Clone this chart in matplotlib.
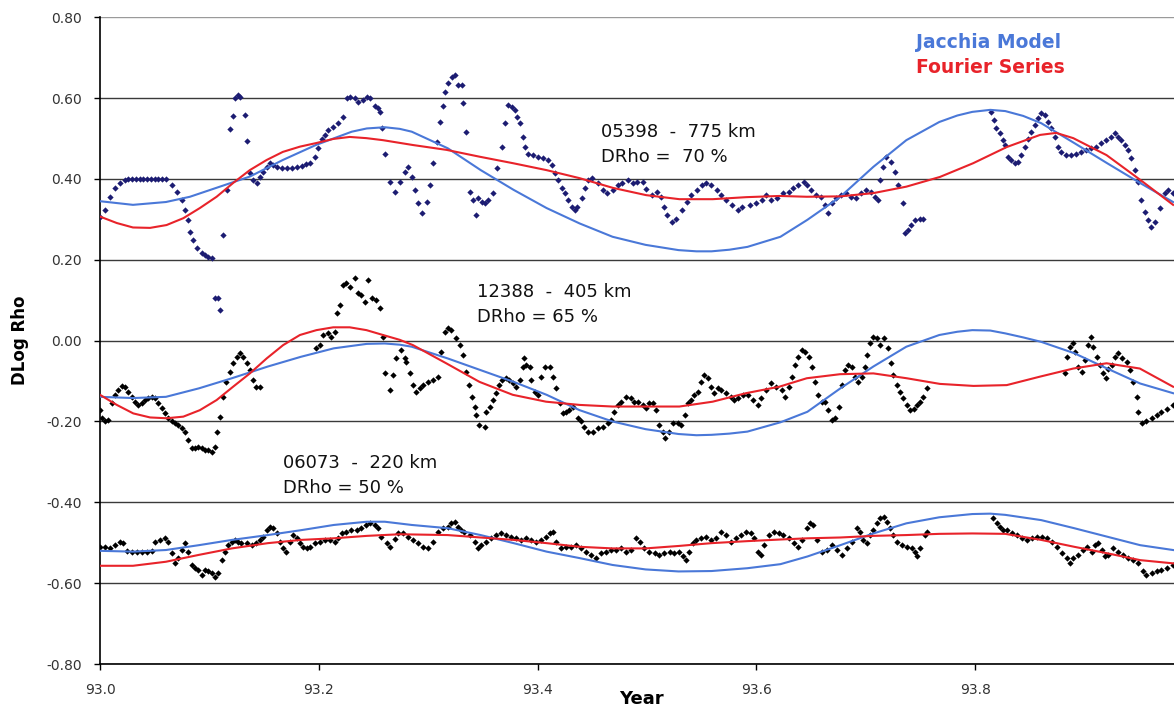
import matplotlib
matplotlib.use("Agg")
import matplotlib.pyplot as plt
import numpy as np
from matplotlib.ticker import FormatStrFormatter, FuncFormatter

plt.rcParams['font.family'] = 'DejaVu Sans'
plt.rcParams['axes.unicode_minus'] = False

# --- 05398 (775 km): day of 1993, DLog Rho ---
day_05398 = [0, 1.7, 3.3, 5, 6.7, 8.3, 9.5, 10.7, 12, 13.3, 14.5, 15.7, 17, 18.3, 19.5, 20.7, 22,
             24, 25.7, 27.3, 28.3, 29.3, 30, 31, 32.3, 34, 35, 36, 37.3, 38.3, 39.3, 40, 41,
             42.3, 43.3, 44.3, 45, 46, 46.7, 48.3, 49, 50, 51, 52.3, 53.3, 54.3, 55.7, 56.7,
             57.7, 59, 60.7, 62.3, 64, 65.7, 67.3, 68.7, 70, 71.7, 72.7, 74, 75, 76, 77.7,
             79.3, 81, 82.3, 83.3, 85, 86, 87.7, 89, 90, 91.7, 92.7, 93.3, 94, 95, 96.7, 98.3,
             100, 101.7, 102.7, 104, 105, 106, 107.3, 109, 110, 111, 112.3, 113.3, 114.3, 115,
             116, 117.3, 118.3, 119.3, 120.7, 121, 122, 123.3, 124.3, 125.3, 126, 127.3, 128.3,
             129.3, 131, 132.3, 134, 135, 136, 137.3, 138.3, 139, 140, 141, 141.7, 142.7, 144.3,
             146, 147.7, 149.3, 150.7, 151.7, 152.7, 154, 155, 156, 157.3, 158.3, 159.3, 160.7,
             161.7, 162.7, 164.3, 166, 167.7, 169.3, 171, 172.7, 174.3, 176, 177.7, 179.3, 181,
             182.3, 184, 185.7, 187.3, 188.3, 189.3, 190.7, 192.3, 194, 195.7, 197.3, 199,
             200.7, 202.3, 204, 205.7, 207.3, 209, 211, 212.7, 214.3, 216.7, 219, 220.7, 222.3,
             224, 225.7, 228, 229.7, 231.3, 233, 234.7, 235.7, 237.3, 239, 240.7, 242, 243,
             244.3, 245.7, 247.3, 249, 250.7, 252.3, 254, 255.7, 257.3, 258.7, 259.7, 260.3,
             261.3, 262.3, 264, 265.3, 266.3, 268, 268.7, 269.7, 270.7, 272, 273.7, 274.7,
             297.3, 298.3, 299, 300.3, 301.3, 302, 303, 304, 305.3, 306.3, 307.3, 308.7, 309.7,
             310.7, 312, 313, 314, 315.3, 316.3, 317.3, 318.7, 319.7, 320.7, 322.3, 324, 325.7,
             327.3, 329, 330.7, 332.3, 334, 335.7, 337.3, 338.7, 339.7, 340.7, 342, 343, 344,
             345.3, 346.3, 347.3, 348.7, 349.7, 350.7, 352, 353.7, 355.3, 356.3, 358]
rho_05398 = [0.307, 0.323, 0.356, 0.378, 0.39, 0.398, 0.40, 0.40, 0.40, 0.40, 0.40, 0.40, 0.40,
             0.40, 0.40, 0.40, 0.40, 0.385, 0.368, 0.348, 0.323, 0.298, 0.27, 0.25, 0.23, 0.217,
             0.212, 0.208, 0.204, 0.105, 0.105, 0.076, 0.262, 0.373, 0.523, 0.556, 0.60, 0.608,
             0.604, 0.558, 0.494, 0.414, 0.398, 0.39, 0.405, 0.418, 0.43, 0.44, 0.435, 0.43,
             0.427, 0.427, 0.428, 0.43, 0.432, 0.436, 0.44, 0.455, 0.476, 0.50, 0.51, 0.52,
             0.528, 0.538, 0.553, 0.60, 0.604, 0.60, 0.59, 0.595, 0.604, 0.60, 0.58, 0.575,
             0.565, 0.525, 0.463, 0.393, 0.368, 0.393, 0.418, 0.43, 0.405, 0.373, 0.34, 0.315,
             0.343, 0.385, 0.44, 0.492, 0.542, 0.58, 0.616, 0.637, 0.653, 0.657, 0.633, 0.633,
             0.588, 0.516, 0.368, 0.348, 0.311, 0.352, 0.343, 0.34, 0.348, 0.365, 0.427, 0.479,
             0.538, 0.583, 0.578, 0.571, 0.553, 0.538, 0.505, 0.479, 0.463, 0.46, 0.455, 0.452,
             0.447, 0.435, 0.414, 0.398, 0.378, 0.365, 0.348, 0.331, 0.323, 0.331, 0.352, 0.378,
             0.398, 0.402, 0.39, 0.373, 0.365, 0.373, 0.385, 0.39, 0.398, 0.39, 0.393, 0.393,
             0.375, 0.36, 0.368, 0.356, 0.331, 0.311, 0.294, 0.302, 0.323, 0.343, 0.36, 0.373,
             0.385, 0.39, 0.385, 0.373, 0.36, 0.348, 0.335, 0.323, 0.331, 0.335, 0.34, 0.348,
             0.36, 0.348, 0.352, 0.365, 0.368, 0.378, 0.385, 0.393, 0.385, 0.373, 0.36, 0.356,
             0.335, 0.315, 0.34, 0.352, 0.36, 0.365, 0.356, 0.352, 0.365, 0.373, 0.368, 0.356,
             0.348, 0.398, 0.43, 0.455, 0.443, 0.418, 0.385, 0.34, 0.266, 0.274, 0.286, 0.298,
             0.302, 0.302, 0.566, 0.546, 0.525, 0.513, 0.496, 0.484, 0.455, 0.447, 0.439,
             0.443, 0.459, 0.479, 0.50, 0.516, 0.533, 0.55, 0.563, 0.558, 0.542, 0.525, 0.505,
             0.479, 0.467, 0.459, 0.459, 0.463, 0.467, 0.471, 0.476, 0.479, 0.488, 0.496, 0.505,
             0.513, 0.505, 0.496, 0.484, 0.471, 0.452, 0.422, 0.393, 0.348, 0.319, 0.298, 0.282,
             0.294, 0.328, 0.365, 0.373, 0.365]

# --- 12388 (405 km) ---
day_12388 = [0, 0.6, 1.7, 2.8, 3.9, 5, 6, 7.2, 8.3, 9.4, 10.6, 11.7, 12.8, 13.9, 15, 16, 17.2,
             18.3, 19.4, 20.6, 21.7, 22.8, 23.9, 25, 26, 27.2, 28.3, 29.4, 30.6, 31.7, 32.8,
             33.9, 35, 36, 37.2, 38.3, 39.1, 40, 41.1, 42.2, 43.3, 44.4, 45.6, 46.7, 47.8, 48.9,
             50, 51.1, 52.2, 53.3,
             72.2, 73.3, 74.4, 76.1, 77.2, 78.3, 78.9, 80, 81.1, 82.2, 83.3, 85, 86.1, 87.2, 88.3,
             89.4, 90.6, 92.2, 93.3, 94.4, 95, 96.7, 97.7, 98.9, 100.5, 101.6, 102.2, 103.3,
             104.4, 105.5, 106.6, 107.7, 109.4, 111.1, 112.7, 113.9, 115, 116.1, 117.2, 118.9,
             120, 121.1, 122, 123.1, 124.2, 125, 125.5, 126.6, 128.3, 128.9, 130, 131.1, 132.2,
             133.1, 134.2, 135.5, 136.6, 137.7, 138.9, 140, 141.1, 141.6, 142.2, 143.3, 143.9,
             145, 146.1, 147.2, 148.3, 150, 151.1, 152.2, 153.3, 154.4, 155.5, 156.6, 157.7,
             159.4, 160.5, 161.6, 162.7, 164.4, 166.1, 167.7, 169.4, 170.5, 171.6, 172.7, 173.9,
             175.5, 177.2, 178.3, 179.4, 181.1, 182.2, 183.3, 184.4, 185.5, 186.6, 187.7, 188.6,
             189.7, 191.1, 192.7, 193.9, 195, 196.1, 197.2, 198.3, 199.4, 200.5, 201.6, 202.7,
             203.9, 205, 206.1, 207.2, 208.9, 210.5, 211.6, 212.7, 214.4, 216.1, 217.7, 219.4,
             220.5, 222.2, 223.9, 225.5, 227.5, 228.6, 229.7, 230.8, 231.9, 233, 234.1, 235.3,
             236.4, 237.5, 238.6, 239.7, 240.8, 241.9, 243, 244.1, 245.3, 246.4, 247.5, 248.6,
             249.7, 250.8, 251.9, 253, 254.1, 255.3, 255.8, 256.9, 258, 259.1, 260.2, 261.4, 263,
             263.8, 264.7, 265.8, 266.9, 268, 269.1, 270.3, 271.4, 272.5, 273.6, 274.7, 275.8,
             321.9, 322.5, 323.6, 324.7, 325.3, 326.4, 327.5, 328.6, 329.7, 330.5, 331.4, 332.5,
             333.6, 334.7, 335.6, 336.4, 337.5, 338.6, 339.7, 340.8, 342.5, 343.6, 344.7, 345.8,
             346.4, 347.5, 349.1, 350.8, 352.5, 354.1, 355.8, 358]
rho_12388 = [-0.172, -0.192, -0.2, -0.196, -0.155, -0.134, -0.122, -0.112, -0.114, -0.126,
             -0.139, -0.151, -0.159, -0.155, -0.147, -0.143, -0.139, -0.143, -0.155, -0.167,
             -0.18, -0.192, -0.2, -0.204, -0.209, -0.217, -0.225, -0.246, -0.266, -0.266,
             -0.262, -0.266, -0.271, -0.271, -0.275, -0.262, -0.225, -0.188, -0.139, -0.102,
             -0.077, -0.056, -0.04, -0.031, -0.04, -0.056, -0.073, -0.097, -0.114, -0.114,
             -0.019, -0.011, 0.014, 0.018, 0.01, 0.022, 0.068, 0.088, 0.138, 0.142, 0.133, 0.154,
             0.117, 0.113, 0.096, 0.15, 0.105, 0.10, 0.08, 0.01, -0.081, -0.122, -0.085, -0.044,
             -0.023, -0.044, -0.052, -0.081, -0.11, -0.126, -0.118, -0.11, -0.102, -0.097,
             -0.089, -0.027, 0.022, 0.031, 0.026, 0.006, -0.011, -0.035, -0.077, -0.11, -0.139,
             -0.163, -0.184, -0.209, -0.213, -0.176, -0.163, -0.147, -0.13, -0.11, -0.097,
             -0.093, -0.097, -0.106, -0.114, -0.097, -0.064, -0.044, -0.06, -0.064, -0.097,
             -0.126, -0.134, -0.089, -0.064, -0.064, -0.089, -0.118, -0.155, -0.18, -0.176,
             -0.172, -0.163, -0.192, -0.2, -0.213, -0.225, -0.225, -0.217, -0.213, -0.204,
             -0.196, -0.176, -0.159, -0.151, -0.139, -0.143, -0.151, -0.151, -0.159, -0.167,
             -0.155, -0.155, -0.172, -0.209, -0.225, -0.242, -0.225, -0.204, -0.204, -0.209,
             -0.184, -0.155, -0.147, -0.134, -0.126, -0.102, -0.085, -0.093, -0.114, -0.13,
             -0.118, -0.122, -0.13, -0.139, -0.147, -0.143, -0.134, -0.134, -0.147, -0.159,
             -0.143, -0.122, -0.106, -0.114, -0.122, -0.139, -0.114, -0.089, -0.06, -0.04,
             -0.023, -0.027, -0.04, -0.064, -0.102, -0.134, -0.151, -0.151, -0.172, -0.196,
             -0.192, -0.163, -0.11, -0.073, -0.06, -0.064, -0.089, -0.102, -0.089, -0.064,
             -0.035, -0.006, 0.01, 0.006, -0.011, 0.006, -0.019, -0.056, -0.085, -0.11, -0.126,
             -0.143, -0.159, -0.172, -0.168, -0.159, -0.151, -0.139, -0.118,
             -0.081, -0.04, -0.015, -0.006, -0.027, -0.064, -0.077, -0.048, -0.011, 0.01, -0.015,
             -0.04, -0.06, -0.081, -0.093, -0.069, -0.06, -0.04, -0.031, -0.044, -0.052, -0.073,
             -0.102, -0.139, -0.176, -0.204, -0.2, -0.192, -0.184, -0.176, -0.168, -0.159]

# --- 06073 (220 km) ---
day_06073 = [0, 1.7, 3.3, 5, 6.7, 7.8, 8.9, 10.6, 12.2, 13.9, 15.6, 17.2, 18.3, 20, 21.7, 22.8,
             23.9, 25, 26.1, 27.2, 28.3, 29.4, 30.6, 31.7, 32.8, 33.9, 35, 36.1, 37.2, 38.3,
             39.4, 40.6, 41.7, 42.8, 43.9, 45, 46.1, 47.2, 48.9, 50.6, 52.2, 53.3, 54.5, 55.6,
             56.7, 57.8, 58.9, 60, 61.1, 62.2, 63.3, 64.4, 65.6, 66.7, 67.8, 68.9, 70, 71.7,
             73.3, 75, 76.7, 78.3, 79.5, 80.6, 82.2, 83.9, 85.6, 87.2, 88.9, 90, 91.7, 92.8,
             93.9, 95.6, 96.7, 98.3, 99.4, 101.1, 102.7, 104.4, 106.1, 107.7, 109.4, 111.1,
             112.7, 114.4, 116.1, 117.2, 118.3, 119.4, 120.5, 121.6, 123.3, 125, 126.1, 127.2,
             128.9, 130.5, 132.2, 133.9, 135.5, 137.2, 138.9, 140.5, 142.2, 143.9, 145.5, 147.2,
             148.9, 150, 151.1, 152.2, 153.9, 155.5, 157.2, 158.9, 160.5, 162.2, 163.9, 165.5,
             167.2, 168.9, 170.5, 172.2, 173.9, 175.5, 177.2, 178.9, 180, 181.6, 183.3, 185,
             186.6, 188.3, 190, 191.6, 193.3, 194.4, 195.5, 196.6, 197.7, 198.9, 200.5, 202.2,
             203.9, 205.5, 207.2, 208.9, 210.5, 212.2, 213.9, 215.5, 217.2, 218.3, 219.4, 220.5,
             221.6, 223.3, 225, 226.4, 228, 229.7, 231.4, 233, 234.1, 235.8, 236.9, 238, 239.1,
             240.8, 242.5, 244.1, 245.8, 247.5, 249.1, 250.8, 252.5, 253.6, 254.7, 255.8, 256.9,
             258, 259.1, 260.2, 261.4, 262.5, 263.6, 264.7, 265.8, 267.5, 269.1, 270.8, 271.9,
             272.7, 273.6, 275.3, 275.8,
             298, 299.2, 300.3, 301.4, 302.5, 304.2, 305.8, 307.5, 309.2, 310.8, 312.5, 314.2,
             315.8, 317.5, 319.2, 320.8, 322.5, 323.6, 324.7, 326.4, 328, 329.2, 330.8, 331.9,
             333, 334.2, 335.3, 336.4, 338, 339.7, 341.4, 343, 344.7, 346.4, 348, 349.1, 350.8,
             352.5, 354.1, 355.8, 358]
rho_06073 = [-0.511, -0.511, -0.514, -0.506, -0.497, -0.5, -0.52, -0.522, -0.522, -0.522,
             -0.522, -0.52, -0.497, -0.493, -0.489, -0.497, -0.526, -0.551, -0.538, -0.518,
             -0.501, -0.522, -0.555, -0.563, -0.567, -0.58, -0.567, -0.571, -0.576, -0.584,
             -0.576, -0.543, -0.522, -0.506, -0.497, -0.493, -0.497, -0.501, -0.501, -0.506,
             -0.501, -0.493, -0.485, -0.469, -0.46, -0.464, -0.477, -0.497, -0.514, -0.522,
             -0.497, -0.481, -0.489, -0.501, -0.51, -0.514, -0.51, -0.501, -0.497, -0.493,
             -0.493, -0.497, -0.489, -0.477, -0.473, -0.469, -0.469, -0.464, -0.456, -0.452,
             -0.456, -0.464, -0.485, -0.501, -0.51, -0.49, -0.477, -0.477, -0.485, -0.493,
             -0.501, -0.51, -0.514, -0.497, -0.473, -0.464, -0.46, -0.452, -0.448, -0.46, -0.469,
             -0.473, -0.481, -0.497, -0.514, -0.506, -0.497, -0.489, -0.481, -0.477, -0.481,
             -0.485, -0.489, -0.493, -0.489, -0.493, -0.497, -0.493, -0.485, -0.477, -0.473,
             -0.497, -0.514, -0.51, -0.51, -0.506, -0.514, -0.522, -0.53, -0.538, -0.526,
             -0.522, -0.518, -0.518, -0.514, -0.522, -0.518, -0.489, -0.497, -0.514, -0.522,
             -0.526, -0.53, -0.526, -0.522, -0.526, -0.522, -0.534, -0.543, -0.522, -0.501,
             -0.493, -0.489, -0.485, -0.493, -0.489, -0.473, -0.481, -0.497, -0.489, -0.481,
             -0.473, -0.477, -0.489, -0.522, -0.53, -0.506, -0.481, -0.473, -0.477, -0.481,
             -0.489, -0.501, -0.51, -0.493, -0.464, -0.452, -0.456, -0.493, -0.522, -0.518,
             -0.506, -0.518, -0.53, -0.514, -0.497, -0.464, -0.473, -0.493, -0.501, -0.481,
             -0.469, -0.452, -0.44, -0.436, -0.448, -0.464, -0.481, -0.497, -0.506, -0.51,
             -0.514, -0.522, -0.534, -0.514, -0.481, -0.473,
             -0.44, -0.452, -0.46, -0.469, -0.469, -0.477, -0.481, -0.489, -0.493, -0.489,
             -0.485, -0.485, -0.489, -0.497, -0.51, -0.526, -0.538, -0.551, -0.538, -0.53,
             -0.518, -0.51, -0.522, -0.506, -0.501, -0.518, -0.534, -0.53, -0.514, -0.522,
             -0.53, -0.538, -0.543, -0.551, -0.571, -0.58, -0.576, -0.571, -0.567, -0.563,
             -0.555]

# --- model curves ---
jac_day_05398 = [0, 11, 22, 30, 40, 50, 61, 72, 84, 89, 95, 100, 104, 116, 127, 138, 149, 160,
                 171, 182, 193, 199, 204, 210, 216, 227, 236, 247, 258, 269, 280, 286, 291, 297,
                 302, 308, 314, 325, 336, 347, 358]
jac_05398 = [0.345, 0.336, 0.343, 0.356, 0.381, 0.406, 0.447, 0.484, 0.517, 0.525, 0.528,
             0.524, 0.517, 0.476, 0.422, 0.373, 0.328, 0.29, 0.257, 0.237, 0.224, 0.221, 0.221,
             0.225, 0.232, 0.257, 0.299, 0.356, 0.43, 0.496, 0.541, 0.557, 0.566, 0.571, 0.568,
             0.556, 0.538, 0.489, 0.439, 0.39, 0.343]
four_day_05398 = [0, 5.6, 11, 16.7, 22.2, 27.8, 33.3, 38.9, 44.4, 50, 55.6, 61, 66.7, 72.2,
                  77.8, 83.3, 88.9, 94.4, 104.4, 115.6, 126.7, 137.8, 148.9, 160, 171.1, 182.2,
                  193.3, 204.4, 215.6, 226.7, 235.8, 247, 258, 269, 280.2, 291.3, 302.5,
                  313.6, 319, 324.7, 335.8, 347, 358]
four_05398 = [0.307, 0.291, 0.28, 0.279, 0.286, 0.303, 0.328, 0.356, 0.39, 0.422, 0.447, 0.467,
              0.48, 0.489, 0.499, 0.504, 0.501, 0.496, 0.484, 0.472, 0.455, 0.439, 0.422, 0.402,
              0.378, 0.36, 0.35, 0.35, 0.355, 0.358, 0.356, 0.357, 0.365, 0.381, 0.405, 0.439,
              0.479, 0.509, 0.514, 0.501, 0.459, 0.398, 0.336]

jac_day_12388 = [0, 11, 22, 33, 44, 56, 67, 78, 89, 95, 100, 104, 116, 127, 138, 149, 160, 171,
                 182, 193, 199, 204, 210, 216, 227, 236, 247, 258, 269, 280, 286, 291, 297, 302,
                 308, 314, 325, 336, 347, 358]
jac_12388 = [-0.139, -0.142, -0.139, -0.118, -0.093, -0.064, -0.04, -0.019, -0.008, -0.007,
             -0.01, -0.015, -0.044, -0.073, -0.102, -0.134, -0.172, -0.2, -0.219, -0.231,
             -0.234, -0.233, -0.23, -0.225, -0.202, -0.176, -0.118, -0.064, -0.015, 0.014,
             0.022, 0.026, 0.025, 0.018, 0.008, -0.003, -0.031, -0.069, -0.106, -0.13]
four_day_12388 = [0, 5.6, 11.1, 16.7, 22.2, 27.8, 33.3, 38.9, 44.4, 50, 55.6, 61.1, 66.7, 72.2,
                  77.8, 83.3, 88.9, 94.4, 100, 104.4, 115.5, 126.6, 137.7, 148.8, 160, 171,
                  182.2, 193.3, 204.4, 215.5, 226.6, 235.8, 246.9, 258, 269.1, 280.2, 291.4,
                  302.5, 313.6, 324.7, 335.8, 346.9, 358]
four_12388 = [-0.134, -0.159, -0.18, -0.19, -0.192, -0.188, -0.172, -0.147, -0.114, -0.081,
              -0.044, -0.011, 0.014, 0.026, 0.033, 0.033, 0.026, 0.014, 0.002, -0.011, -0.056,
              -0.102, -0.134, -0.151, -0.159, -0.163, -0.163, -0.163, -0.151, -0.13, -0.114,
              -0.093, -0.083, -0.081, -0.093, -0.107, -0.112, -0.11, -0.089, -0.069, -0.056,
              -0.069, -0.114]

jac_day_06073 = [0, 11, 22, 33, 44, 56, 67, 78, 89, 95, 104, 116, 127, 138, 149, 160, 171, 182,
                 193, 204, 216, 227, 236, 247, 258, 269, 280, 291, 297, 302, 314, 325, 336,
                 347, 358]
jac_06073 = [-0.52, -0.522, -0.518, -0.506, -0.493, -0.481, -0.469, -0.456, -0.448, -0.448,
             -0.456, -0.464, -0.481, -0.501, -0.522, -0.538, -0.555, -0.566, -0.571, -0.57,
             -0.563, -0.553, -0.534, -0.506, -0.477, -0.452, -0.437, -0.429, -0.428, -0.431,
             -0.444, -0.464, -0.485, -0.506, -0.518]
four_day_06073 = [0, 11, 22, 33, 44, 56, 67, 78, 89, 100, 116, 127, 138, 149, 160, 171, 182,
                  193, 204, 216, 227, 236, 247, 258, 269, 280, 291, 302, 314, 325, 336, 347, 358]
four_06073 = [-0.557, -0.557, -0.547, -0.53, -0.514, -0.501, -0.493, -0.489, -0.483, -0.479,
              -0.481, -0.487, -0.493, -0.501, -0.51, -0.514, -0.514, -0.508, -0.501, -0.496,
              -0.492, -0.489, -0.487, -0.483, -0.481, -0.478, -0.477, -0.478, -0.493, -0.51,
              -0.526, -0.543, -0.551]


def yr(days):
    return 93.0 + np.asarray(days) / 365.0


def ylab(v, pos):
    v = round(v, 2)
    return '%.2f' % (0.0 if abs(v) < 1e-9 else v)


navy = '#1c1c72'
blue = '#4a78d8'
red = '#e8232a'

fig = plt.figure(figsize=(11.74, 7.11), dpi=100)
ax = fig.add_axes([100 / 1174, 47 / 711, 1074 / 1174, 646.7 / 711])

# observed points
ax.plot(yr(day_05398), rho_05398, ls='none', marker='D', ms=3.2, mew=0, color=navy, zorder=3)
ax.plot(yr(day_12388), rho_12388, ls='none', marker='D', ms=3.2, mew=0, color='black', zorder=3)
ax.plot(yr(day_06073), rho_06073, ls='none', marker='D', ms=3.2, mew=0, color='black', zorder=3)

# Jacchia model and Fourier fits
for d, v in [(jac_day_05398, jac_05398), (jac_day_12388, jac_12388), (jac_day_06073, jac_06073)]:
    ax.plot(yr(d), v, color=blue, lw=1.5, zorder=4)
for d, v in [(four_day_05398, four_05398), (four_day_12388, four_12388),
             (four_day_06073, four_06073)]:
    ax.plot(yr(d), v, color=red, lw=1.5, zorder=4)

ax.set_xlim(93.0, yr(358.3))
ax.set_ylim(-0.8, 0.8)
ax.set_xticks([93.0, 93.2, 93.4, 93.6, 93.8])
ax.set_yticks(np.arange(-0.8, 0.81, 0.2))
ax.xaxis.set_major_formatter(FormatStrFormatter('%.1f'))
ax.yaxis.set_major_formatter(FuncFormatter(ylab))
ax.tick_params(axis='both', direction='out', length=4, width=1, colors='black',
               labelcolor='#333333', labelsize=10)
ax.tick_params(axis='x', pad=10)
ax.tick_params(axis='y', pad=9)

ax.yaxis.grid(True, color='#3a3a3a', lw=1)
ax.get_ygridlines()[-1].set_color('#9a9a9a')   # top line at 0.80 is lighter
ax.set_axisbelow(True)
for s in ['top', 'right']:
    ax.spines[s].set_visible(False)
ax.spines['left'].set_linewidth(1.2)
ax.spines['bottom'].set_linewidth(1.2)

ax.set_xlabel('Year', fontsize=13, fontweight='bold', va='center')
ax.xaxis.set_label_coords(0.504, -0.0545)
ax.set_ylabel('DLog Rho', fontsize=12, fontweight='bold')
ax.yaxis.set_label_coords(-0.066, 0.5)

# legend as coloured text
ax.text(yr(272.3), 0.724, 'Jacchia Model', color=blue, fontsize=13.5, fontweight='bold')
ax.text(yr(272.3), 0.662, 'Fourier Series', color=red, fontsize=13.5, fontweight='bold')

# satellite labels
ax.text(yr(167.3), 0.504, '05398  -  775 km', fontsize=13, color='#111111')
ax.text(yr(167.3), 0.442, 'DRho =  70 %', fontsize=13, color='#111111')
ax.text(yr(125.7), 0.108, '12388  -  405 km', fontsize=13, color='#111111')
ax.text(yr(125.7), 0.046, 'DRho = 65 %', fontsize=13, color='#111111')
ax.text(yr(61), -0.315, '06073  -  220 km', fontsize=13, color='#111111')
ax.text(yr(61), -0.377, 'DRho = 50 %', fontsize=13, color='#111111')

fig.savefig('out.png', dpi=100)
